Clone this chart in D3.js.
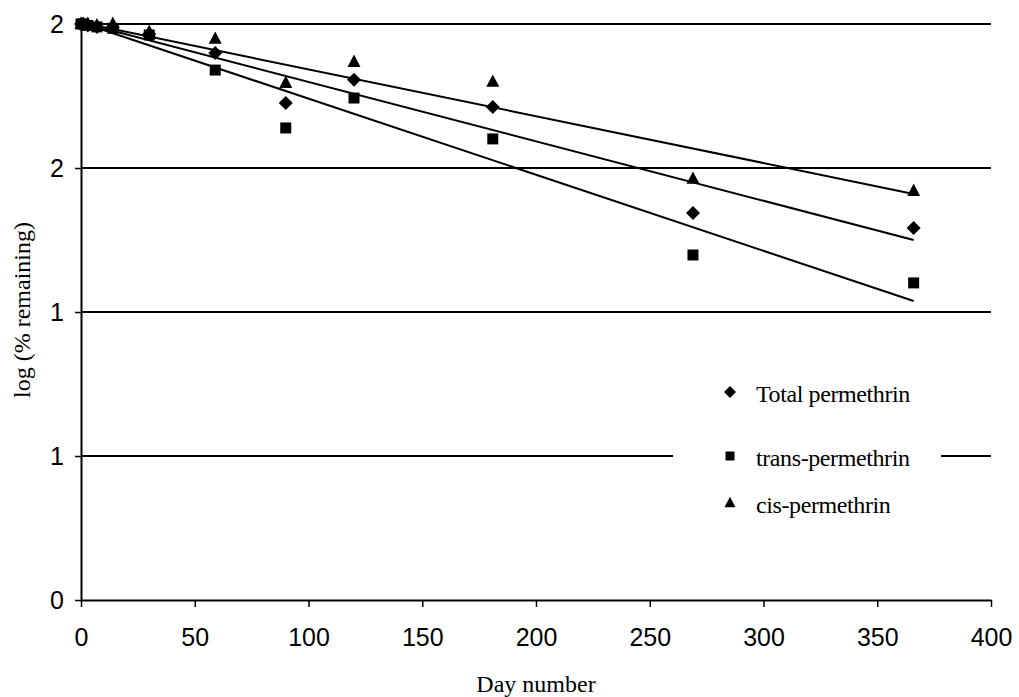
<!DOCTYPE html>
<html><head><meta charset="utf-8">
<script src="https://cdn.jsdelivr.net/npm/d3@7"></script>
<style>body{margin:0;background:#fff}svg{display:block}</style>
</head><body>
<script>
const days = [0, 1, 3, 7, 14, 30, 59, 90, 120, 181, 269, 366];
const totalVals = [2.0, 2.0, 1.995, 1.99, 1.99, 1.965, 1.899, 1.726, 1.806, 1.712, 1.344, 1.292];
const transVals = [2.0, 2.0, 1.995, 1.99, 1.985, 1.962, 1.840, 1.639, 1.743, 1.601, 1.198, 1.101];
const cisVals   = [2.0, 2.0, 2.0, 1.995, 2.0, 1.972, 1.948, 1.795, 1.868, 1.799, 1.462, 1.420];
// trend lines: [value at day 0, value at day 366]
const trendDays = [0, 366];
const totalTrend = [2.005, 1.250];
const transTrend = [2.005, 1.038];
const cisTrend   = [2.005, 1.410];
const xTicks = [0, 50, 100, 150, 200, 250, 300, 350, 400];
const yTicks = [0, 0.5, 1, 1.5, 2];
const seriesNames = ["Total permethrin", "trans-permethrin", "cis-permethrin"];

const W = 1019, H = 697;
const svg = d3.select("body").append("svg").attr("width", W).attr("height", H);
const x = d3.scaleLinear().domain([0, 400]).range([81, 991]);
const y = d3.scaleLinear().domain([0, 2]).range([600, 24]);
const serif = "Liberation Serif, Times New Roman, serif";
const sans = "Liberation Sans, Arial, sans-serif";

// gridlines
svg.append("g").selectAll("line").data(yTicks.filter(t => t > 0)).join("line")
  .attr("x1", x(0)).attr("x2", x(400)).attr("y1", d => y(d)).attr("y2", d => y(d))
  .attr("stroke", "#000").attr("stroke-width", 2);

// legend background (covers gridline)
svg.append("rect").attr("x", 673).attr("y", 360).attr("width", 268).attr("height", 175).attr("fill", "#fff");

// axes
const xAxis = d3.axisBottom(x).tickValues(xTicks).tickSize(7).tickSizeOuter(0).tickFormat(d3.format("d"));
const gx = svg.append("g").attr("transform", `translate(0,${y(0)})`).call(xAxis);
gx.select(".domain").attr("stroke", "#000").attr("stroke-width", 2);
gx.selectAll(".tick line").attr("stroke", "#000").attr("stroke-width", 1.5);
gx.selectAll(".tick text").attr("font-family", sans).attr("font-size", 25)
  .attr("fill", "#000").attr("y", 37).attr("dy", "0.35em");

const yAxis = d3.axisLeft(y).tickValues(yTicks).tickSize(6).tickSizeOuter(0).tickFormat(d => Math.round(d + 1e-9));
const gy = svg.append("g").attr("transform", `translate(${x(0)},0)`).call(yAxis);
gy.select(".domain").attr("stroke", "#000").attr("stroke-width", 2);
gy.selectAll(".tick line").attr("stroke", "#000").attr("stroke-width", 1.5);
gy.selectAll(".tick text").attr("font-family", sans).attr("font-size", 25)
  .attr("fill", "#000").attr("x", -17).attr("dy", "0.35em");

// axis titles
svg.append("text").attr("x", 536).attr("y", 692).attr("text-anchor", "middle")
  .attr("font-family", serif).attr("font-size", 24).text("Day number");
svg.append("text").attr("transform", "translate(30,310) rotate(-90)").attr("text-anchor", "middle")
  .attr("font-family", serif).attr("font-size", 24).text("log (% remaining)");

// trend lines
const line = d3.line().x(d => x(d[0])).y(d => y(d[1]));
[totalTrend, transTrend, cisTrend].forEach(t => {
  svg.append("path").attr("d", line(trendDays.map((d, i) => [d, t[i]])))
    .attr("fill", "none").attr("stroke", "#000").attr("stroke-width", 2);
});

// markers
const diamond = r => `M0,${-r}L${r},0L0,${r}L${-r},0Z`;
const square = r => `M${-r},${-r}H${r}V${r}H${-r}Z`;
const triangle = r => `M0,${-r * 1.15}L${r},${r * 0.75}L${-r},${r * 0.75}Z`;
const series = [
  {vals: totalVals, sym: () => diamond(7)},
  {vals: transVals, sym: () => square(5.5)},
  {vals: cisVals, sym: () => triangle(6.5)}
];
series.forEach(s => {
  svg.append("g").selectAll("path").data(days.map((d, i) => [d, s.vals[i]])).join("path")
    .attr("d", s.sym()).attr("transform", d => `translate(${x(d[0])},${y(d[1])})`).attr("fill", "#000");
});

// legend
const legY = [392, 456, 503];
const legSyms = [diamond(6), square(4.5), triangle(5.5)];
seriesNames.forEach((n, i) => {
  svg.append("path").attr("d", legSyms[i]).attr("transform", `translate(730,${legY[i]})`).attr("fill", "#000");
  svg.append("text").attr("x", 756).attr("y", legY[i] + 10)
    .attr("font-family", serif).attr("font-size", 24).attr("letter-spacing", -0.4).text(n);
});
</script>
</body></html>
